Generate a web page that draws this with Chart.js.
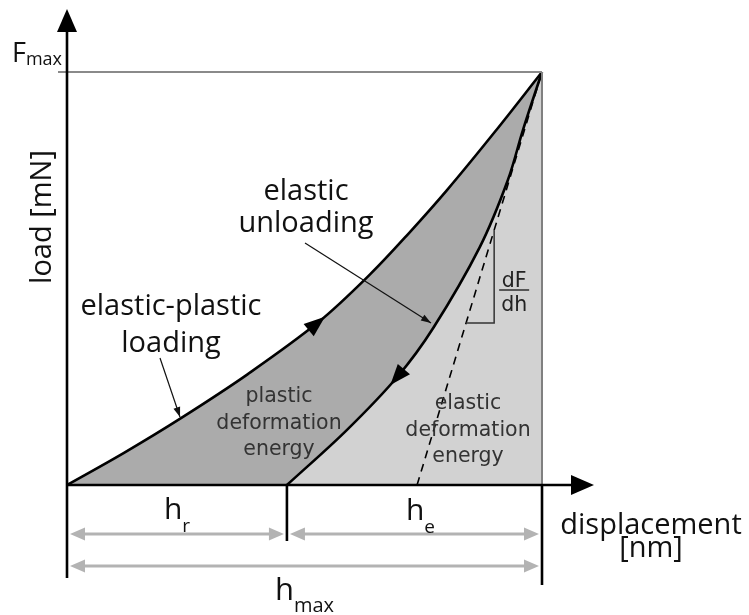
<!DOCTYPE html>
<html>
<head>
<meta charset="utf-8">
<script src="https://cdn.jsdelivr.net/npm/chart.js@4/dist/chart.umd.min.js"></script>
<style>
  html, body { margin: 0; padding: 0; background: #fff; }
  #wrap { width: 749px; height: 615px; }
</style>
</head>
<body>
<div id="wrap"><canvas id="c" width="749" height="615"></canvas></div>
<script>
// Indentation load–displacement cycle, normalised: displacement in % of h_max, load in % of F_max
const loadingH   = [0, 12, 24, 38, 53, 63.8, 72, 80, 90, 100];
const loadingF   = [0, 7.8, 16.2, 26.8, 39.5, 51, 61, 71.4, 85.4, 100];
const unloadingH = [46.3, 58.9, 69.7, 77.1, 86.9, 92.8, 96.0, 100];
const unloadingF = [0, 13.3, 26.4, 38.0, 57.6, 73.8, 86.0, 100];
const tangentH   = [73.7, 100];
const tangentF   = [0, 100];
const hMax = 100;
const fMax = 100;
const hResidual = unloadingH[0];
// load levels spanned by the dF/dh slope triangle
const slopeF = [39.2, 61.7];

const toPoints = (xs, ys) => xs.map((x, i) => ({ x: x, y: ys[i] }));

const MAIN = "'Open Sans', 'Noto Sans', sans-serif";
const INNER = "'DejaVu Sans', sans-serif";

function head(ctx, tx, ty, ang, len, half, color) {
  const c = Math.cos(ang), s = Math.sin(ang);
  ctx.save();
  ctx.fillStyle = color;
  ctx.beginPath();
  ctx.moveTo(tx, ty);
  ctx.lineTo(tx - len * c + half * s, ty - len * s - half * c);
  ctx.lineTo(tx - len * c - half * s, ty - len * s + half * c);
  ctx.closePath();
  ctx.fill();
  ctx.restore();
}

function line(ctx, x1, y1, x2, y2, color, w, dash) {
  ctx.save();
  ctx.strokeStyle = color;
  ctx.lineWidth = w;
  ctx.setLineDash(dash || []);
  ctx.beginPath();
  ctx.moveTo(x1, y1);
  ctx.lineTo(x2, y2);
  ctx.stroke();
  ctx.restore();
}

function subText(ctx, main, sub, cx, base, mainSize, subSize, drop) {
  ctx.save();
  ctx.fillStyle = '#111';
  ctx.textBaseline = 'alphabetic';
  ctx.textAlign = 'left';
  ctx.font = mainSize + 'px ' + MAIN;
  const wm = ctx.measureText(main).width;
  ctx.font = subSize + 'px ' + MAIN;
  const ws = ctx.measureText(sub).width;
  const x0 = cx - (wm + ws) / 2;
  ctx.font = mainSize + 'px ' + MAIN;
  ctx.fillText(main, x0, base);
  ctx.font = subSize + 'px ' + MAIN;
  ctx.fillText(sub, x0 + wm, base + drop);
  ctx.restore();
}

function centered(ctx, lines, cx, base0, step, font, color) {
  ctx.save();
  ctx.font = font;
  ctx.fillStyle = color;
  ctx.textAlign = 'center';
  ctx.textBaseline = 'alphabetic';
  lines.forEach((t, i) => ctx.fillText(t, cx, base0 + i * step));
  ctx.restore();
}

// curve direction markers placed at a data point, oriented along the spline tangent
function curveArrow(chart, dsIndex, ptIndex, reverse, ahead) {
  const p = chart.getDatasetMeta(dsIndex).data[ptIndex];
  let ang = Math.atan2(p.cp2y - p.cp1y, p.cp2x - p.cp1x);
  if (reverse) ang += Math.PI;
  const tx = p.x + ahead * Math.cos(ang), ty = p.y + ahead * Math.sin(ang);
  head(chart.ctx, tx, ty, ang, 21, 8, '#000');
}

const decorations = {
  id: 'decorations',
  afterDatasetsDraw(chart) {
    const ctx = chart.ctx;
    const xs = chart.scales.x, ys = chart.scales.y;
    const x0 = xs.getPixelForValue(0), xR = xs.getPixelForValue(hResidual), xM = xs.getPixelForValue(hMax);
    const y0 = ys.getPixelForValue(0), yF = ys.getPixelForValue(fMax);

    // frame: F_max level and right edge of the cycle
    line(ctx, x0 - 9, yF, xM, yF, '#8a8a8a', 1.8);
    line(ctx, xM, yF, xM, y0, '#808080', 2);

    // axes with arrowheads
    line(ctx, x0, 578, x0, 28, '#000', 2.6);
    head(ctx, x0, 9, -Math.PI / 2, 23, 10, '#000');
    line(ctx, x0, y0, 575, y0, '#000', 2.6);
    head(ctx, 594, y0, 0, 23, 10, '#000');

    // depth markers below the axis
    line(ctx, xR, y0, xR, 541, '#000', 2.6);
    line(ctx, xM, y0, xM, 585, '#000', 2.6);

    // dimension arrows
    const g = '#b3b3b3';
    const dim = (a, b, y) => {
      line(ctx, a + 8, y, b - 8, y, g, 3);
      head(ctx, a + 3, y, Math.PI, 15, 6.5, g);
      head(ctx, b - 3, y, 0, 15, 6.5, g);
    };
    dim(x0, xR, 534);
    dim(xR, xM, 534);
    dim(x0, xM, 566);

    // curve direction arrows
    curveArrow(chart, 1, 4, false, 8);
    curveArrow(chart, 0, 2, true, 12);

    // slope triangle on the tangent line
    const tanX = f => xs.getPixelForValue(tangentH[0] + (f / fMax) * (tangentH[1] - tangentH[0]));
    const yLo = ys.getPixelForValue(slopeF[0]), yHi = ys.getPixelForValue(slopeF[1]);
    const xLo = tanX(slopeF[0]), xHi = tanX(slopeF[1]);
    ctx.save();
    ctx.strokeStyle = '#333';
    ctx.lineWidth = 1.5;
    ctx.beginPath();
    ctx.moveTo(xLo, yLo);
    ctx.lineTo(xHi, yLo);
    ctx.lineTo(xHi, yHi);
    ctx.stroke();
    ctx.restore();
    centered(ctx, ['dF'], xHi + 20, 287, 0, '20.5px ' + INNER, '#222');
    line(ctx, xHi + 5, 290, xHi + 35, 290, '#222', 1.4);
    centered(ctx, ['dh'], xHi + 20, 311, 0, '20.5px ' + INNER, '#222');

    // pointer lines for the curve labels
    const pointer = (a, b, c, d) => {
      line(ctx, a, b, c, d, '#111', 1.2);
      head(ctx, c, d, Math.atan2(d - b, c - a), 10, 3.5, '#111');
    };
    pointer(305, 243, 431, 323);
    pointer(160, 358, 180, 417);

    // curve labels
    const big = '29px ' + MAIN;
    centered(ctx, ['elastic', 'unloading'], 306, 200, 32, big, '#111');
    centered(ctx, ['elastic-plastic', 'loading'], 171, 315, 37, big, '#111');

    // energy areas
    const inner = '20.5px ' + INNER;
    centered(ctx, ['plastic', 'deformation', 'energy'], 279, 402, 26.5, inner, '#333');
    centered(ctx, ['elastic', 'deformation', 'energy'], 468, 409, 26.5, inner, '#333');

    // depth symbols
    subText(ctx, 'h', 'r', (x0 + xR) / 2, 519, 30, 19, 13);
    subText(ctx, 'h', 'e', (xR + xM) / 2 + 6, 520, 30, 19, 13);
    subText(ctx, 'h', 'max', (x0 + xM) / 2, 600, 31, 20, 12);

    // axis titles
    ctx.save();
    ctx.font = '27px ' + MAIN;
    ctx.fillStyle = '#111';
    ctx.textAlign = 'left';
    ctx.fillText('F', 12, 62);
    const wF = ctx.measureText('F').width;
    ctx.font = '18px ' + MAIN;
    ctx.fillText('max', 12 + wF, 65);
    ctx.restore();

    centered(ctx, ['displacement', '[nm]'], 651, 534, 23, big, '#111');

    ctx.save();
    ctx.translate(51, 217);
    ctx.rotate(-Math.PI / 2);
    ctx.font = big;
    ctx.fillStyle = '#111';
    ctx.textAlign = 'center';
    ctx.fillText('load [mN]', 0, 0);
    ctx.restore();
  }
};

new Chart(document.getElementById('c'), {
  type: 'line',
  data: {
    datasets: [
      {
        label: 'elastic unloading',
        data: toPoints(unloadingH, unloadingF),
        borderColor: '#000',
        borderWidth: 2.6,
        backgroundColor: '#d2d2d2',
        fill: 'origin',
        tension: 0.35,
        pointRadius: 0,
        clip: false,
        order: 2
      },
      {
        label: 'elastic-plastic loading',
        data: toPoints(loadingH, loadingF),
        borderColor: '#000',
        borderWidth: 2.6,
        backgroundColor: '#ababab',
        fill: 'origin',
        tension: 0.35,
        pointRadius: 0,
        clip: false,
        order: 3
      },
      {
        label: 'dF/dh',
        data: toPoints(tangentH, tangentF),
        borderColor: '#000',
        borderWidth: 1.6,
        borderDash: [8, 6],
        fill: false,
        pointRadius: 0,
        clip: false,
        order: 1
      }
    ]
  },
  options: {
    responsive: false,
    animation: false,
    devicePixelRatio: 1,
    layout: { padding: { left: 67, right: 207, top: 72, bottom: 130 } },
    scales: {
      x: { type: 'linear', min: 0, max: hMax, display: false },
      y: { type: 'linear', min: 0, max: fMax, display: false }
    },
    plugins: {
      legend: { display: false },
      tooltip: { enabled: false }
    }
  },
  plugins: [decorations]
});
</script>
</body>
</html>
